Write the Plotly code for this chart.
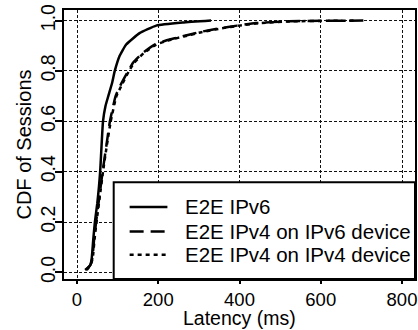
import plotly.graph_objects as go

# E2E IPv6 (solid)
ipv6_ms = [20, 32, 36, 40, 44, 50, 54, 57, 64, 70, 77, 86, 93, 105, 121, 154, 195, 260, 330]
ipv6_cdf = [0.01, 0.027, 0.053, 0.13, 0.2, 0.275, 0.34, 0.4, 0.6, 0.66, 0.7, 0.75, 0.8, 0.86, 0.905, 0.95, 0.98, 0.992, 1.0]

# E2E IPv4 on IPv6 device (dashed)
v4v6_ms = [22, 33, 38, 42, 47, 55, 63, 72, 81, 95, 109, 126, 138, 162, 191, 228, 260, 301, 350, 394, 440, 521, 600, 710]
v4v6_cdf = [0.01, 0.03, 0.06, 0.13, 0.2, 0.3, 0.4, 0.5, 0.6, 0.7, 0.75, 0.8, 0.833, 0.872, 0.905, 0.925, 0.9375, 0.954, 0.969, 0.98, 0.99, 0.997, 0.999, 1.0]

# E2E IPv4 on IPv4 device (dotted)
v4v4_ms = [24, 34, 39, 43, 48, 56, 64, 73, 83, 97, 112, 128, 141, 165, 195, 232, 265, 306, 355, 400, 450, 530, 620, 690]
v4v4_cdf = [0.01, 0.03, 0.06, 0.13, 0.2, 0.3, 0.4, 0.5, 0.6, 0.7, 0.75, 0.8, 0.833, 0.872, 0.905, 0.925, 0.9375, 0.954, 0.969, 0.98, 0.99, 0.997, 0.999, 1.0]

series_names = ["E2E IPv6", "E2E IPv4 on IPv6 device", "E2E IPv4 on IPv4 device"]
series_dash = ["solid", "14px,7px", "4px,4px"]

x_ticks = [0, 200, 400, 600, 800]
y_ticks = [0.0, 0.2, 0.4, 0.6, 0.8, 1.0]
y_tick_labels = ["0.0", "0.2", "0.4", "0.6", "0.8", "1.0"]
x_title = "Latency (ms)"
y_title = "CDF of Sessions"

FONT = "Liberation Sans, Arial, sans-serif"

fig = go.Figure()
for xs, ys, name, dash in zip([ipv6_ms, v4v6_ms, v4v4_ms], [ipv6_cdf, v4v6_cdf, v4v4_cdf],
                              series_names, series_dash):
    fig.add_trace(go.Scatter(x=xs, y=ys, mode="lines", name=name, showlegend=False,
                             line=dict(color="black", width=2.5, dash=dash,
                                       shape="spline", smoothing=0.4)))

# Custom legend box (paper coordinates) in the lower right corner
box_x0, box_y1 = 0.1416, 0.36
sample_x0, sample_x1, text_x = 0.187, 0.2946, 0.3428
row_y = [0.268, 0.177, 0.09]
fig.add_shape(type="rect", xref="paper", yref="paper", x0=box_x0, x1=1, y0=0, y1=box_y1,
              line=dict(color="black", width=2), fillcolor="white", layer="above")
for name, dash, yy in zip(series_names, series_dash, row_y):
    fig.add_shape(type="line", xref="paper", yref="paper", x0=sample_x0, x1=sample_x1,
                  y0=yy, y1=yy, line=dict(color="black", width=2.5, dash=dash), layer="above")
    fig.add_annotation(xref="paper", yref="paper", x=text_x, y=yy, text=name,
                       showarrow=False, xanchor="left", yanchor="middle",
                       font=dict(size=20.5), borderpad=0)

# x-axis title, pinned to the bottom edge of the figure
fig.add_annotation(xref="paper", yref="paper", x=0.5, y=0, yshift=-51,
                   text=x_title, showarrow=False, xanchor="center", yanchor="bottom",
                   font=dict(size=19.5), borderpad=0)

fig.update_layout(
    width=418, height=330,
    margin=dict(l=64, r=1, t=10, b=51),
    paper_bgcolor="white", plot_bgcolor="white",
    font=dict(family=FONT, size=19.5, color="black"),
    showlegend=False,
)
fig.update_xaxes(
    range=[-32, 832], tickmode="array", tickvals=x_ticks,
    ticklabeloverflow="allow", tickfont=dict(size=18.5),
    showgrid=True, gridcolor="#111", griddash="3px,2px", gridwidth=1.2,
    zeroline=False, showline=True, linecolor="black", linewidth=2, mirror=True,
    ticks="outside", ticklen=3, tickwidth=1.5, tickcolor="black",
)
fig.update_yaxes(
    range=[-0.026, 1.042], tickmode="array", tickvals=y_ticks, ticktext=y_tick_labels,
    tickangle=-90, ticklabelstandoff=-8,
    showgrid=True, gridcolor="#111", griddash="3px,2px", gridwidth=1.2,
    zeroline=False, showline=True, linecolor="black", linewidth=2, mirror=True,
    ticks="outside", ticklen=7, tickwidth=1.5, tickcolor="black",
    title=dict(text=y_title, standoff=0, font=dict(size=20)),
)

fig.write_html("out.html")
